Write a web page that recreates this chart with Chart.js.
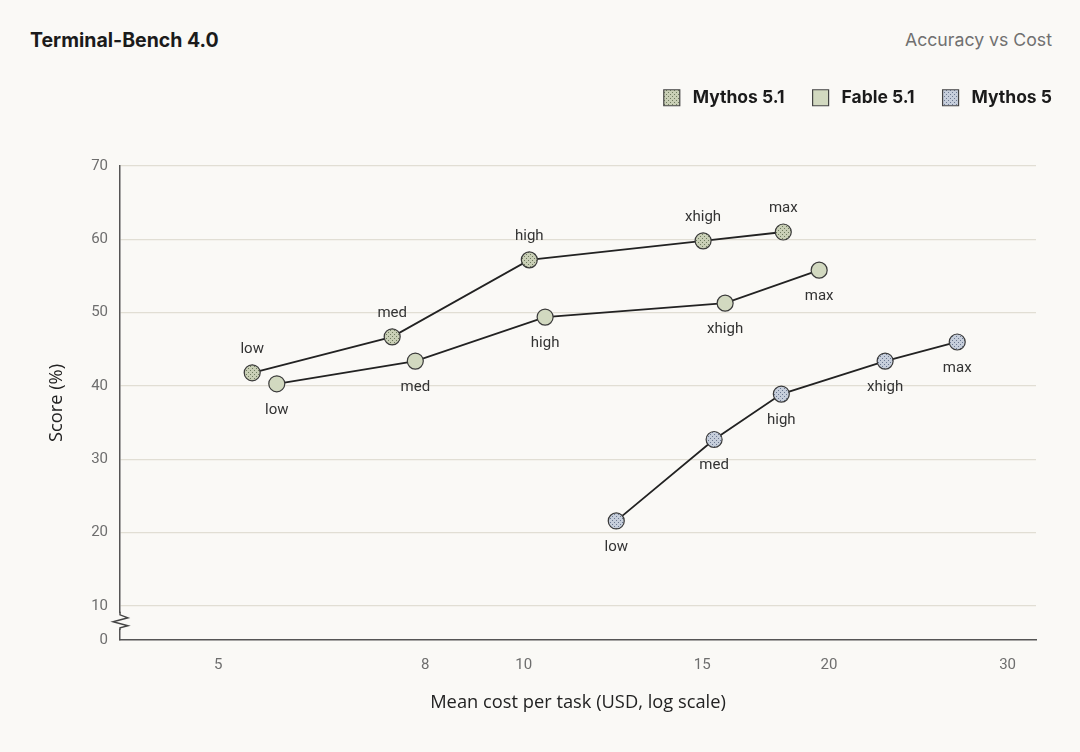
<!DOCTYPE html>
<html lang="en">
<head>
    <meta charset="UTF-8">
    <title>Terminal-Bench 4.0 - Accuracy vs Cost</title>
    <script src="https://cdn.jsdelivr.net/npm/chart.js"></script>
    <style>
        html, body { margin: 0; padding: 0; background: #faf9f6; }
        body { width: 1080px; height: 752px; position: relative; overflow: hidden; }
        .title { position: absolute; left: 30px; top: 28px; font: 700 19.5px Inter, sans-serif; color: #1b1b1b; }
        .subtitle { position: absolute; right: 28px; top: 29px; font: 400 17.7px Inter, sans-serif; color: #707070; }
        #wrap { position: absolute; left: 0; top: 0; width: 1080px; height: 752px; }
    </style>
</head>
<body>
    <div class="title">Terminal-Bench 4.0</div>
    <div class="subtitle">Accuracy vs Cost</div>
    <div id="wrap"><canvas id="chart" width="1080" height="752"></canvas></div>

    <script>
        // effort levels, same order for every model
        const levels = ['low', 'med', 'high', 'xhigh', 'max'];

        const mythos51Cost = [5.40, 7.42, 10.13, 15.03, 18.03];
        const mythos51Score = [41.8, 46.7, 57.2, 59.8, 61.0];

        const fable51Cost = [5.71, 7.82, 10.50, 15.80, 19.56];
        const fable51Score = [40.3, 43.4, 49.4, 51.3, 55.8];

        const mythos5Cost = [12.34, 15.41, 17.95, 22.72, 26.76];
        const mythos5Score = [21.6, 32.7, 38.9, 43.4, 46.0];

        const xTicks = [5, 8, 10, 15, 20, 30];
        const yTicks = [10, 20, 30, 40, 50, 60, 70];
        const yFloor = 5.36;   // where the broken axis shows "0"

        function dots(bg, dot) {
            const c = document.createElement('canvas');
            c.width = 4; c.height = 4;
            const g = c.getContext('2d');
            g.fillStyle = bg; g.fillRect(0, 0, 4, 4);
            g.fillStyle = dot;
            g.fillRect(0, 0, 1, 1);
            g.fillRect(2, 2, 1, 1);
            return g.createPattern(c, 'repeat');
        }

        const fillMythos51 = dots('#c9cfb6', '#6f7b5f');
        const fillFable51 = '#d2d9c0';
        const fillMythos5 = dots('#c6cedb', '#6c7991');

        function toPoints(xs, ys) {
            return xs.map((x, i) => ({ x: x, y: ys[i] }));
        }

        function series(label, xs, ys, fill, below) {
            return {
                label: label,
                data: toPoints(xs, ys),
                borderColor: '#222',
                borderWidth: 1.8,
                backgroundColor: fill,
                pointBackgroundColor: fill,
                pointBorderColor: '#3a3a3a',
                pointBorderWidth: 1.2,
                pointRadius: 8,
                pointHoverRadius: 8,
                tension: 0,
                labelsBelow: below
            };
        }

        // effort names above / below each marker
        const pointNames = {
            id: 'pointNames',
            afterDatasetsDraw(chart) {
                const ctx = chart.ctx;
                ctx.save();
                ctx.font = '15px Roboto, sans-serif';
                ctx.fillStyle = '#333';
                ctx.textAlign = 'center';
                ctx.textBaseline = 'middle';
                chart.data.datasets.forEach((ds, i) => {
                    chart.getDatasetMeta(i).data.forEach((pt, j) => {
                        const dy = ds.labelsBelow ? 26 : -24;
                        ctx.fillText(levels[j], pt.x, pt.y + dy);
                    });
                });
                ctx.restore();
            }
        };

        // zigzag break on the y axis between 0 and 10
        const axisBreak = {
            id: 'axisBreak',
            afterDraw(chart) {
                const ctx = chart.ctx;
                const y = chart.scales.y;
                const x0 = chart.chartArea.left;
                const mid = y.getPixelForValue((yFloor + 10) / 2 + 0.3);
                ctx.save();
                ctx.fillStyle = '#faf9f6';
                ctx.fillRect(x0 - 2, mid - 8, 4, 16);
                ctx.strokeStyle = '#444';
                ctx.lineWidth = 1.4;
                ctx.beginPath();
                ctx.moveTo(x0, mid - 9);
                ctx.lineTo(x0, mid - 6);
                ctx.lineTo(x0 + 8, mid - 3);
                ctx.lineTo(x0 - 7, mid + 1);
                ctx.lineTo(x0 + 8, mid + 5);
                ctx.lineTo(x0, mid + 7);
                ctx.lineTo(x0, mid + 9);
                ctx.stroke();
                ctx.restore();
            }
        };

        // fixed legend height so the plot starts at the right place
        const legendSpace = {
            id: 'legendSpace',
            beforeInit(chart) {
                const fit = chart.legend.fit;
                chart.legend.fit = function () {
                    fit.bind(chart.legend)();
                    this.height = 105;
                };
            }
        };

        const chart = new Chart(document.getElementById('chart'), {
            type: 'line',
            data: {
                datasets: [
                    series('Mythos 5.1', mythos51Cost, mythos51Score, fillMythos51, false),
                    series('Fable 5.1', fable51Cost, fable51Score, fillFable51, true),
                    series('Mythos 5', mythos5Cost, mythos5Score, fillMythos5, true)
                ]
            },
            options: {
                responsive: false,
                animation: false,
                layout: { padding: { top: 61, left: 0, right: 0, bottom: 0 } },
                plugins: {
                    tooltip: { enabled: false },
                    legend: {
                        position: 'top',
                        align: 'end',
                        labels: {
                            boxWidth: 16,
                            boxHeight: 16,
                            padding: 28,
                            color: '#1b1b1b',
                            font: { family: 'Inter', size: 17.5, weight: '700' },
                            generateLabels(chart) {
                                return chart.data.datasets.map((ds, i) => ({
                                    text: ' ' + ds.label,
                                    fillStyle: ds.backgroundColor,
                                    strokeStyle: '#444',
                                    lineWidth: 1.2,
                                    fontColor: '#1b1b1b',
                                    datasetIndex: i
                                }));
                            }
                        }
                    }
                },
                scales: {
                    x: {
                        type: 'logarithmic',
                        min: 4,
                        max: 32,
                        afterBuildTicks(scale) {
                            scale.ticks = xTicks.map(v => ({ value: v }));
                        },
                        afterFit(scale) { scale.height = 112; },
                        grid: { display: false, drawTicks: false },
                        border: { display: true, color: '#555', width: 1.5 },
                        ticks: {
                            autoSkip: false,
                            maxRotation: 0,
                            padding: 16,
                            color: '#6e6e6e',
                            font: { family: 'Roboto', size: 15 },
                            callback: v => String(v)
                        },
                        title: {
                            display: true,
                            text: 'Mean cost per task (USD, log scale)',
                            color: '#222',
                            font: { family: 'Open Sans', size: 18.3 },
                            padding: { top: 0, bottom: 38 }
                        }
                    },
                    y: {
                        min: yFloor,
                        max: 70,
                        afterBuildTicks(scale) {
                            scale.ticks = [{ value: yFloor }].concat(yTicks.map(v => ({ value: v })));
                        },
                        afterFit(scale) { scale.width = 120; },
                        grid: {
                            drawTicks: false,
                            color: ctx => ctx.tick && ctx.tick.value < 10 ? 'rgba(0,0,0,0)' : '#e1ded4',
                            lineWidth: 1.2
                        },
                        border: { display: true, color: '#555', width: 1.5 },
                        ticks: {
                            autoSkip: false,
                            padding: 12,
                            color: '#6e6e6e',
                            font: { family: 'Roboto', size: 15 },
                            callback: v => v < 10 ? '0' : String(v)
                        },
                        title: {
                            display: true,
                            text: 'Score (%)',
                            color: '#222',
                            font: { family: 'Open Sans', size: 18.3 },
                            padding: { top: 46, bottom: 0 }
                        }
                    },
                    y2: {
                        position: 'right',
                        display: true,
                        afterFit(scale) { scale.width = 44; },
                        grid: { display: false, drawTicks: false },
                        border: { display: false },
                        ticks: { display: false }
                    }
                }
            },
            plugins: [legendSpace, pointNames, axisBreak]
        });
    </script>
</body>
</html>
